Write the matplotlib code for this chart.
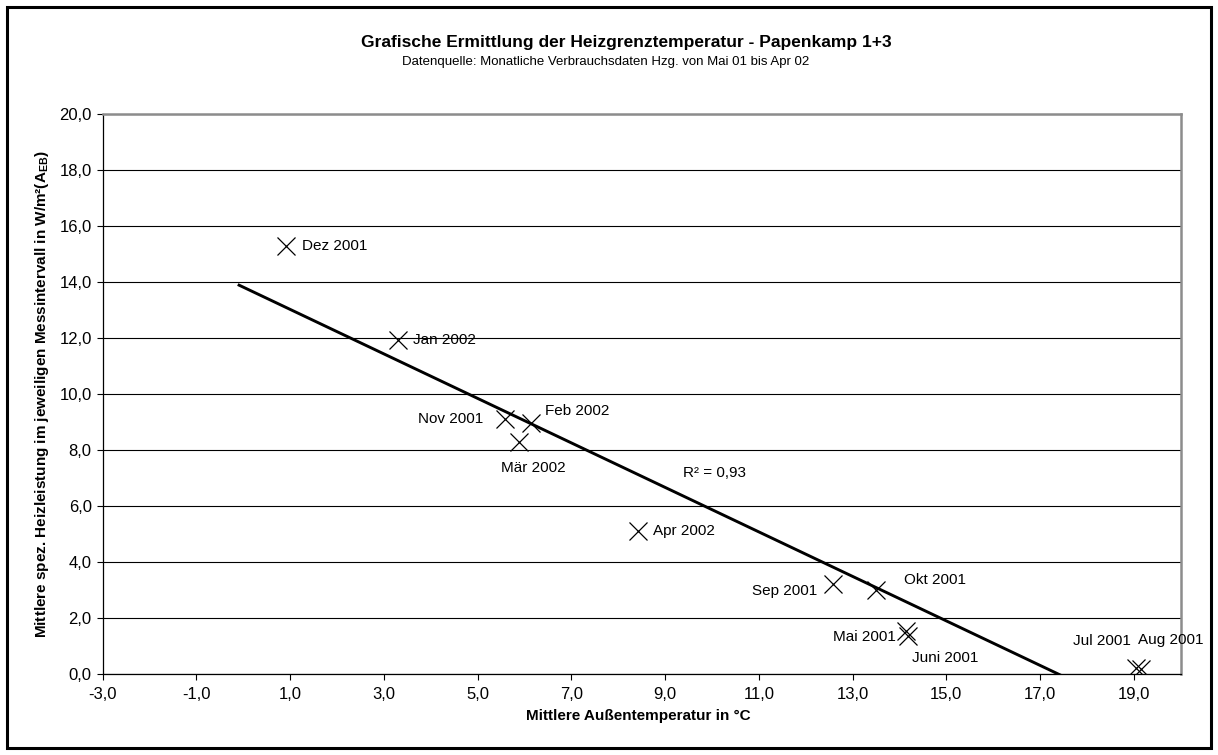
import numpy as np
import matplotlib.pyplot as plt
from matplotlib.patches import Rectangle

plt.rcParams["font.family"] = ["Liberation Sans", "DejaVu Sans"]
plt.rcParams["mathtext.fontset"] = "custom"
plt.rcParams["mathtext.rm"] = "Liberation Sans:bold"
plt.rcParams["mathtext.default"] = "regular"

# monthly values
months = ["Mai 2001", "Juni 2001", "Jul 2001", "Aug 2001", "Sep 2001", "Okt 2001",
          "Nov 2001", "Dez 2001", "Jan 2002", "Feb 2002", "Mär 2002", "Apr 2002"]
temp = [14.14, 14.19, 19.05, 19.15, 12.59, 13.50, 5.58, 0.91, 3.29, 6.14, 5.88, 8.43]
power = [1.52, 1.34, 0.19, 0.15, 3.20, 2.99, 9.10, 15.30, 11.92, 8.97, 8.27, 5.11]

xticks = np.arange(-3, 20, 2)
yticks = np.arange(0, 21, 2)

# label placement (offset in pixels, horizontal alignment)
label_offsets = {
    "Mai 2001": (-10, -6, "right"),
    "Juni 2001": (4, -22, "left"),
    "Jul 2001": (-5, 27, "right"),
    "Aug 2001": (-3, 29, "left"),
    "Sep 2001": (-16, -7, "right"),
    "Okt 2001": (28, 10, "left"),
    "Nov 2001": (-22, 0, "right"),
    "Dez 2001": (16, 0, "left"),
    "Jan 2002": (15, 0, "left"),
    "Feb 2002": (14, 12, "left"),
    "Mär 2002": (14, -26, "center"),
    "Apr 2002": (15, 0, "left"),
}


def comma(v):
    return f"{v:.1f}".replace(".", ",")


fig = plt.figure(figsize=(12.18, 7.55), dpi=100)
ax = fig.add_axes([0.0843, 0.1079, 0.8851, 0.7407])

# linear trendline (Excel style, 1 unit backward forecast)
slope, icpt = np.polyfit(temp, power, 1)
pred = slope * np.array(temp) + icpt
r2 = 1 - np.sum((np.array(power) - pred) ** 2) / np.sum((np.array(power) - np.mean(power)) ** 2)
tx = np.array([min(temp) - 1.0, max(temp)])
ax.plot(tx, slope * tx + icpt, color="black", lw=2.1, zorder=3)

ax.plot(temp, power, linestyle="none", marker="x", markersize=13, markeredgewidth=0.9,
        color="black", zorder=4)

for name, x, y in zip(months, temp, power):
    dx, dy, ha = label_offsets[name]
    ax.annotate(name, (x, y), xytext=(dx, dy), textcoords="offset pixels",
                ha=ha, va="center", fontsize=11, color="black", zorder=5)

ax.text(0.5386, 0.358, "R² = " + f"{r2:.2f}".replace(".", ","), transform=ax.transAxes,
        ha="left", va="center", fontsize=11)

ax.set_xlim(-3, 20)
ax.set_ylim(0, 20)
ax.set_xticks(xticks)
ax.set_yticks(yticks)
ax.set_xticklabels([comma(v) for v in xticks], fontsize=12)
ax.set_yticklabels([comma(v) for v in yticks], fontsize=12)
ax.tick_params(direction="out", length=4, width=0.8, color="black")
ax.tick_params(axis="x", pad=5.5)
ax.tick_params(axis="y", pad=3.9)
ax.grid(axis="y", color="black", lw=0.8)
ax.set_axisbelow(True)
for side in ["left", "bottom"]:
    ax.spines[side].set_color("black")
    ax.spines[side].set_linewidth(0.9)
for side in ["top", "right"]:
    ax.spines[side].set_color("#8c8c8c")
    ax.spines[side].set_linewidth(1.8)

fig.text(626 / 1218, 1 - 42.7 / 755, "Grafische Ermittlung der Heizgrenztemperatur - Papenkamp 1+3",
         ha="center", va="center", fontsize=12.5, fontweight="bold")
fig.text(606 / 1218, 1 - 62 / 755, "Datenquelle: Monatliche Verbrauchsdaten Hzg. von Mai 01 bis Apr 02",
         ha="center", va="center", fontsize=9.5)
fig.text(638.5 / 1218, 1 - 716 / 755, "Mittlere Außentemperatur in °C",
         ha="center", va="center", fontsize=11, fontweight="bold")
fig.text(42 / 1218, 1 - 394 / 755,
         r"Mittlere spez. Heizleistung im jeweiligen Messintervall in W/m²(A$_{EB}$)",
         ha="center", va="center", rotation=90, fontsize=11, fontweight="bold")

fig.patches.append(Rectangle((7 / 1218, 7 / 755), 1204 / 1218, 741 / 755,
                             transform=fig.transFigure, fill=False,
                             edgecolor="black", lw=2.2))

fig.savefig("out.png", dpi=100)
